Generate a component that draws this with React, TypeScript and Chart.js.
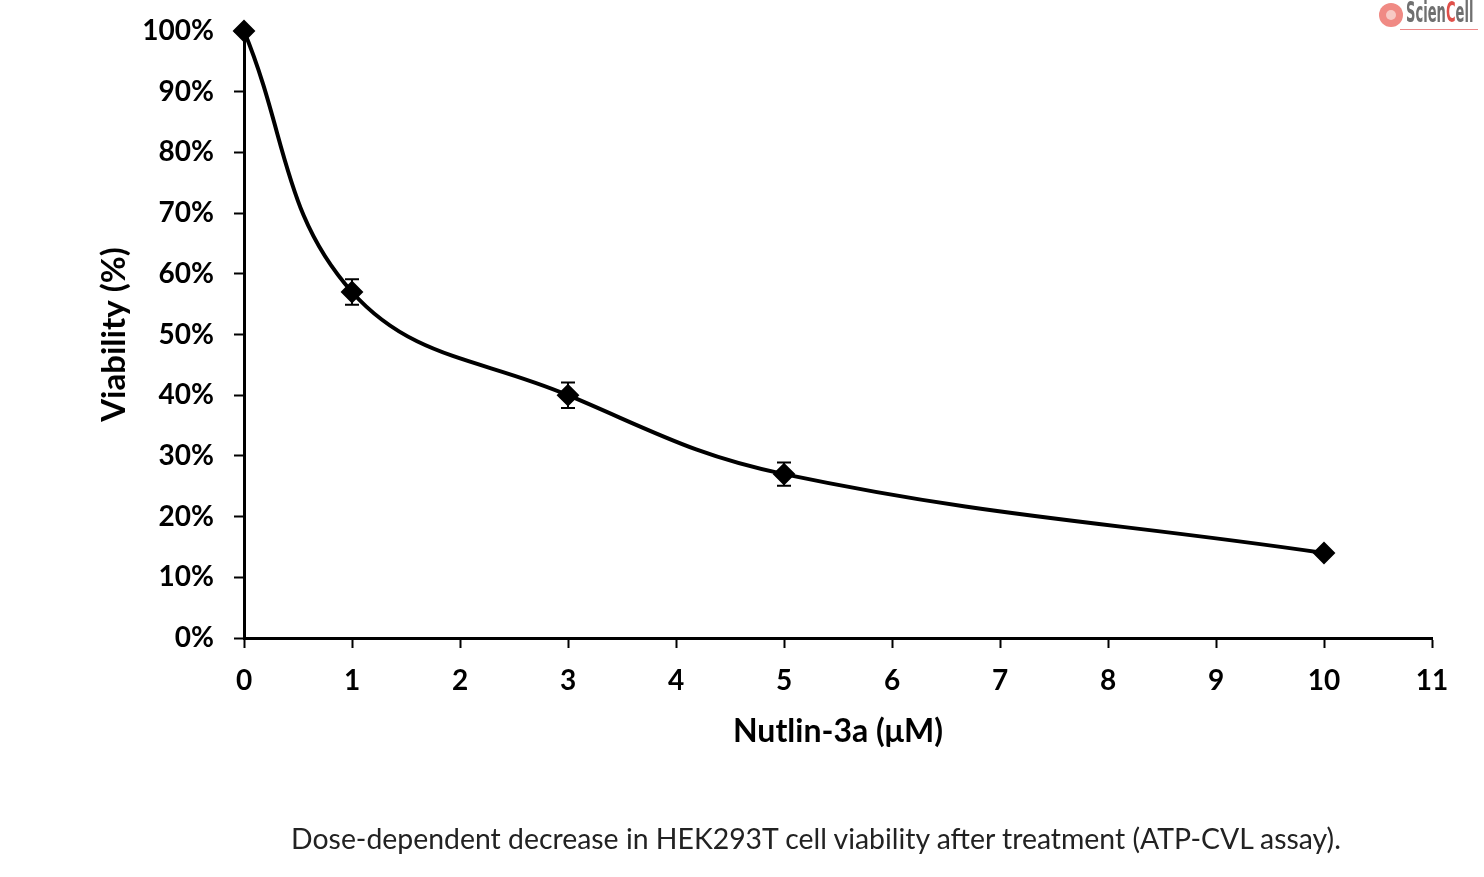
import { useEffect, useRef } from 'react'
import { Chart, registerables } from 'chart.js'
import type { Plugin, Scale } from 'chart.js'

Chart.register(...registerables)

// Nutlin-3a dose (µM) vs viability (%)
const doses = [0, 1, 3, 5, 10]
const viability = [100, 57, 40, 27, 14]
const viabilityErr = [0, 2.1, 2.1, 1.9, 0]
const xTickValues = [0, 1, 2, 3, 4, 5, 6, 7, 8, 9, 10, 11]
const yTickValues = [0, 10, 20, 30, 40, 50, 60, 70, 80, 90, 100]

const FONT = "Lato, 'Open Sans', sans-serif"

// vertical error bars with caps, drawn under the diamonds
const errorBars: Plugin<'line'> = {
  id: 'errorBars',
  beforeDatasetsDraw(chart) {
    const { ctx, scales } = chart
    const x = scales.x
    const y = scales.y
    ctx.save()
    ctx.strokeStyle = '#000'
    ctx.lineWidth = 2
    doses.forEach((d, i) => {
      const e = viabilityErr[i]
      if (!e) return
      const px = x.getPixelForValue(d)
      const top = y.getPixelForValue(viability[i] + e)
      const bot = y.getPixelForValue(viability[i] - e)
      ctx.beginPath()
      ctx.moveTo(px, top)
      ctx.lineTo(px, bot)
      ctx.moveTo(px - 7, top)
      ctx.lineTo(px + 7, top)
      ctx.moveTo(px - 7, bot)
      ctx.lineTo(px + 7, bot)
      ctx.stroke()
    })
    ctx.restore()
  }
}

export default function App() {
  const canvasRef = useRef<HTMLCanvasElement>(null)

  useEffect(() => {
    if (!canvasRef.current) return
    const ctx = canvasRef.current.getContext('2d')
    if (!ctx) return

    const chart = new Chart(ctx, {
      type: 'line',
      data: {
        datasets: [
          {
            label: 'Viability',
            data: doses.map((d, i) => ({ x: d, y: viability[i] })),
            borderColor: '#000',
            backgroundColor: '#000',
            borderWidth: 4,
            tension: 0.4,
            pointStyle: 'rectRot',
            pointRadius: 10,
            pointBorderWidth: 2,
            pointBackgroundColor: '#000',
            pointBorderColor: '#000',
            clip: false
          }
        ]
      },
      options: {
        animation: false,
        responsive: true,
        maintainAspectRatio: false,
        layout: { padding: { left: 95, top: 31, right: 52, bottom: 126 } },
        plugins: {
          legend: { display: false },
          tooltip: { enabled: false }
        },
        scales: {
          x: {
            type: 'linear',
            min: 0,
            max: 11,
            afterBuildTicks: (scale: Scale) => {
              scale.ticks = xTickValues.map(v => ({ value: v }))
            },
            afterFit: (scale: Scale) => {
              scale.height = 113
            },
            ticks: {
              color: '#000',
              padding: 16,
              font: { family: FONT, size: 28, weight: 'bold' }
            },
            grid: {
              drawOnChartArea: false,
              drawTicks: true,
              tickLength: 10,
              tickColor: '#000',
              tickWidth: 2
            },
            border: { display: true, color: '#000', width: 3 },
            title: {
              display: true,
              text: 'Nutlin-3a (μM)',
              color: '#000',
              padding: 0,
              font: { family: FONT, size: 32, weight: 'bold' }
            }
          },
          y: {
            type: 'linear',
            min: 0,
            max: 100,
            afterBuildTicks: (scale: Scale) => {
              scale.ticks = yTickValues.map(v => ({ value: v }))
            },
            afterFit: (scale: Scale) => {
              scale.width = 149
              // let the layout padding alone decide the plot top
              scale.paddingTop = 0
              scale.paddingBottom = 0
            },
            ticks: {
              color: '#000',
              padding: 20,
              font: { family: FONT, size: 28, weight: 'bold' },
              callback: (v: string | number) => `${v}%`
            },
            grid: {
              drawOnChartArea: false,
              drawTicks: true,
              tickLength: 10,
              tickColor: '#000',
              tickWidth: 2
            },
            border: { display: true, color: '#000', width: 3 },
            title: {
              display: true,
              text: 'Viability (%)',
              color: '#000',
              padding: 0,
              font: { family: FONT, size: 33, weight: 'bold' }
            }
          }
        }
      },
      plugins: [errorBars]
    })

    return () => {
      chart.destroy()
    }
  }, [])

  return (
    <div style={{ position: 'fixed', left: 0, top: 0, width: 1484, height: 877, background: '#fff', overflow: 'hidden' }}>
      <canvas ref={canvasRef} />
      {/* logo, top right */}
      <div style={{ position: 'absolute', left: 1379, top: 3, width: 24, height: 24, borderRadius: '50%', background: '#f08a84' }} />
      <div style={{ position: 'absolute', left: 1386, top: 10, width: 10, height: 10, borderRadius: '50%', background: '#f7c9c4' }} />
      <div
        style={{
          position: 'absolute',
          left: 1406,
          top: -2,
          fontFamily: "'DejaVu Sans Condensed', 'DejaVu Sans', sans-serif",
          fontWeight: 'bold',
          fontSize: 28,
          color: '#707070',
          transform: 'scaleX(0.52)',
          transformOrigin: 'left top',
          whiteSpace: 'nowrap',
          lineHeight: '30px'
        }}
      >
        Scien<span style={{ color: '#e0504a' }}>C</span>ell
      </div>
      <div style={{ position: 'absolute', left: 1400, top: 29, width: 78, height: 1, background: '#e88' }} />
      {/* caption */}
      <div
        style={{
          position: 'absolute',
          left: 816,
          top: 822,
          transform: 'translateX(-50%)',
          whiteSpace: 'nowrap',
          fontFamily: FONT,
          fontSize: 28.4,
          lineHeight: '32px',
          color: '#222'
        }}
      >
        Dose-dependent decrease in HEK293T cell viability after treatment (ATP-CVL assay).
      </div>
    </div>
  )
}
